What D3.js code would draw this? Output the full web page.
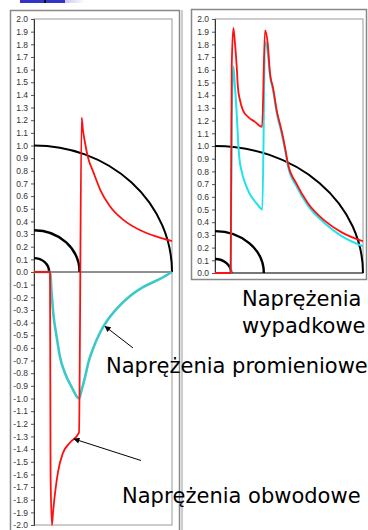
<!DOCTYPE html>
<meta charset="utf-8">
<title>Naprężenia</title>
<style>
body { margin: 0; background: #fff; }
svg { display: block; }
.tick text { font-family: "Liberation Sans", Arial, sans-serif; font-size: 8.5px; fill: #333; }
.note { font-family: "DejaVu Sans", Verdana, sans-serif; font-size: 21px; fill: #000; }
</style>
<svg width="368" height="530"></svg>
<script src="https://d3js.org/d3.v7.min.js"></script>
<script>

// left chart: radial (promieniowe) and hoop (obwodowe) stress vs radius
var hoopX = [0, 0.116, 0.12, 0.13, 0.138, 0.174, 0.21, 0.26, 0.326, 0.345, 0.355, 0.37, 0.39, 0.43, 0.48, 0.55, 0.65, 0.77, 0.89, 1.0];
var hoopY = [0, 0, -1.6, -2.0, -1.9, -1.58, -1.43, -1.35, -1.27, 1.22, 1.12, 1.02, 0.91, 0.79, 0.65, 0.52, 0.41, 0.33, 0.28, 0.245];

var radX = [0, 0.116, 0.128, 0.14, 0.164, 0.188, 0.225, 0.273, 0.326, 0.346, 0.37, 0.393, 0.43, 0.478, 0.527, 0.6, 0.696, 0.79, 0.913, 1.0];
var radY = [0, 0, -0.17, -0.33, -0.51, -0.67, -0.8, -0.91, -1.0, -0.93, -0.83, -0.72, -0.6, -0.48, -0.39, -0.29, -0.19, -0.12, -0.055, 0];

// right chart: resultant (wypadkowe) stress
var resX = [0, 0.106, 0.113, 0.124, 0.135, 0.147, 0.155, 0.169, 0.189, 0.223, 0.27, 0.318, 0.338, 0.356, 0.372, 0.392, 0.417, 0.45, 0.473, 0.493, 0.552, 0.628, 0.743, 0.856, 1.0];
var resY = [0, 0, 1.62, 1.93, 1.81, 1.62, 1.46, 1.36, 1.28, 1.23, 1.19, 1.15, 1.91, 1.81, 1.57, 1.46, 1.28, 1.12, 0.99, 0.86, 0.70, 0.55, 0.41, 0.32, 0.25];

var res2X = [0, 0.106, 0.113, 0.124, 0.135, 0.147, 0.157, 0.164, 0.18, 0.203, 0.236, 0.28, 0.32, 0.338, 0.356, 0.372, 0.392, 0.417, 0.45, 0.473, 0.493, 0.552, 0.628, 0.743, 0.856, 1.0];
var res2Y = [0, 0, 1.2, 1.63, 1.46, 1.25, 1.02, 0.91, 0.80, 0.71, 0.62, 0.55, 0.50, 1.82, 1.74, 1.55, 1.44, 1.26, 1.10, 0.97, 0.84, 0.68, 0.53, 0.39, 0.29, 0.21];

// ring radii (quarter circles)
var radii = [0.11, 0.33, 1.0];

var leftTicks = d3.range(-20, 21).map(function(d) { return d / 10; });
var rightTicks = d3.range(0, 21).map(function(d) { return d / 10; });

var labels = [
  {text: "Naprężenia", x: 242, y: 306},
  {text: "wypadkowe", x: 242, y: 333},
  {text: "Naprężenia promieniowe", x: 106, y: 373},
  {text: "Naprężenia obwodowe", x: 122, y: 503}
];
// arrows in left-chart data units: [tailX, tailY, tipX, tipY]
var arrows = [
  [0.717, -0.6, 0.515, -0.43],
  [0.775, -1.49, 0.29, -1.32]
];

var svg = d3.select("svg");

// slide decoration
var grad = svg.append("defs").append("linearGradient").attr("id", "fade");
grad.append("stop").attr("offset", 0).attr("stop-color", "#c8c8ee");
grad.append("stop").attr("offset", 1).attr("stop-color", "#fff");
svg.append("rect").attr("x", 20).attr("y", 0).attr("width", 45).attr("height", 3).attr("fill", "#3434c8");
svg.append("rect").attr("x", 65).attr("y", 0).attr("width", 20).attr("height", 3).attr("fill", "url(#fade)");
svg.append("rect").attr("x", 44).attr("y", 0).attr("width", 2).attr("height", 3).attr("fill", "#111");

// chart frames
svg.append("rect").attr("x", 10.5).attr("y", 10.5).attr("width", 169).attr("height", 530)
  .attr("fill", "none").attr("stroke", "#888").attr("stroke-width", 1.5);
svg.append("line").attr("x1", 182).attr("x2", 182).attr("y1", 10).attr("y2", 530)
  .attr("stroke", "#999");
svg.append("rect").attr("x", 191.5).attr("y", 9.5).attr("width", 175).attr("height", 270)
  .attr("fill", "none").attr("stroke", "#888").attr("stroke-width", 1.5);

function chart(x, y, ticks) {
  var g = svg.append("g");
  // plot border
  g.append("rect").attr("x", x.range()[0]).attr("y", y.range()[1])
    .attr("width", x.range()[1] - x.range()[0]).attr("height", y.range()[0] - y.range()[1])
    .attr("fill", "none").attr("stroke", "#999");
  var ax = g.append("g").attr("transform", "translate(" + x(0) + ",0)")
    .call(d3.axisLeft(y).tickValues(ticks).tickSize(3).tickPadding(3)
      .tickFormat(function(d) { return d.toFixed(1); }));
  ax.select(".domain").attr("stroke", "#333");
  ax.selectAll(".tick line").attr("stroke", "#555");
  // horizontal zero axis
  g.append("line").attr("x1", x(0)).attr("x2", x(1)).attr("y1", y(0)).attr("y2", y(0))
    .attr("stroke", "#222");
  // rings
  g.selectAll(".ring").data(radii).enter().append("path")
    .attr("fill", "none").attr("stroke", "#000")
    .attr("stroke-width", function(d) { return d < 0.5 ? 2.4 : 2; })
    .attr("d", function(r) {
      var rx = x(r) - x(0), ry = y(0) - y(r);
      return "M" + x(0) + "," + y(r) + "A" + rx + "," + ry + " 0 0 1 " + x(r) + "," + y(0);
    });
  return g;
}

function series(g, x, y, xs, ys, color, w) {
  var line = d3.line().curve(d3.curveMonotoneX)
    .x(function(d) { return x(d[0]); }).y(function(d) { return y(d[1]); });
  g.append("path").datum(d3.zip(xs, ys)).attr("d", line)
    .attr("fill", "none").attr("stroke", color).attr("stroke-width", w)
    .attr("stroke-linejoin", "round");
}

var xL = d3.scaleLinear().domain([0, 1]).range([34, 172]),
    yL = d3.scaleLinear().domain([-2, 2]).range([525, 19]);
var xR = d3.scaleLinear().domain([0, 1]).range([215, 363]),
    yR = d3.scaleLinear().domain([0, 2]).range([273, 19]);

var gL = chart(xL, yL, leftTicks);
series(gL, xL, yL, radX, radY, "#3cc8c8", 2.6);
series(gL, xL, yL, hoopX, hoopY, "#ff1010", 1.8);

var gR = chart(xR, yR, rightTicks);
series(gR, xR, yR, res2X, res2Y, "#22e2ea", 2);
series(gR, xR, yR, resX, resY, "#ff1010", 1.8);

// arrows
svg.append("defs").append("marker").attr("id", "head")
  .attr("viewBox", "0 0 10 10").attr("refX", 9).attr("refY", 5)
  .attr("markerWidth", 8).attr("markerHeight", 6).attr("markerUnits", "userSpaceOnUse")
  .attr("orient", "auto")
  .append("path").attr("d", "M0,0L10,5L0,10z").attr("fill", "#000");
svg.selectAll(".arrow").data(arrows).enter().append("line")
  .attr("x1", function(d) { return xL(d[0]); }).attr("y1", function(d) { return yL(d[1]); })
  .attr("x2", function(d) { return xL(d[2]); }).attr("y2", function(d) { return yL(d[3]); })
  .attr("stroke", "#000").attr("stroke-width", 1).attr("marker-end", "url(#head)");

svg.selectAll(".note").data(labels).enter().append("text")
  .attr("class", "note")
  .attr("x", function(d) { return d.x; }).attr("y", function(d) { return d.y; })
  .text(function(d) { return d.text; });

</script>
